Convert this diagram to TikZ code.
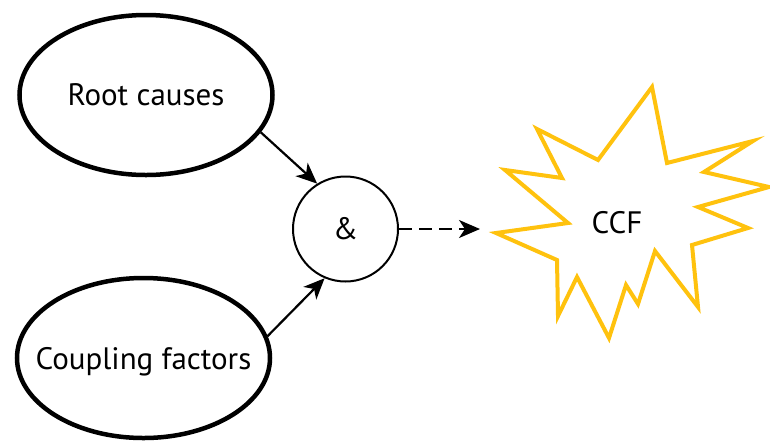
\documentclass[tikz,border=0pt]{standalone}
\usepackage{fontspec}
\setmainfont{PT Sans}
\usetikzlibrary{positioning}
\usetikzlibrary{shapes.geometric}
\usetikzlibrary{arrows.meta}
\definecolor{flash}{RGB}{255, 194, 14}

\begin{document}
\begin{tikzpicture}[
  cause/.style={ellipse, draw=black, line width=4.5pt, minimum width=253pt, minimum height=160pt, inner sep=0pt},
  word/.style={font=\fontsize{31}{37}\selectfont, text depth=0pt},
  gate/.style={circle, draw=black, line width=2pt, minimum size=105pt, inner sep=0pt, font=\fontsize{31}{37}\selectfont},
  link/.style={line width=2.2pt, -{Stealth[length=21pt, width=18pt, inset=6pt]}}
]
\useasboundingbox (0pt, 0pt) rectangle (770pt, -440pt);
\node (root) [cause, label={[word]center:Root causes}] at (146pt, -95pt) {};
\node (coupling) [cause, label={[word]center:Coupling factors}] at (143.5pt, -358pt) {};
\node (and) [gate] at (345.5pt, -229pt) {\&};
\coordinate (hit) at (480pt, -229pt);
% the failure burst
\draw [flash, line width=4pt] (496pt, -233pt) -- (568pt, -223pt) -- (505pt, -170pt) -- (562pt, -178pt)
  -- (537pt, -129pt) -- (598pt, -160pt) -- (652pt, -87pt) -- (667pt, -163pt) -- (753pt, -141pt)
  -- (704pt, -172pt) -- (769pt, -187pt) -- (698pt, -207pt) -- (748pt, -228pt) -- (692pt, -245pt)
  -- (698pt, -307pt) -- (655pt, -251pt) -- (638pt, -304pt) -- (626pt, -285pt) -- (609pt, -338pt)
  -- (577pt, -277pt) -- (558pt, -316pt) -- (557pt, -260pt) -- cycle;
\node (ccf) [word] at (617pt, -222pt) {CCF};
\draw [link] (root.-18) to (and.122);
\draw [link] (coupling.10) to (and.-113);
\draw [link, dash pattern=on 13pt off 7pt] (and.east) to (hit);
\end{tikzpicture}
\end{document}
